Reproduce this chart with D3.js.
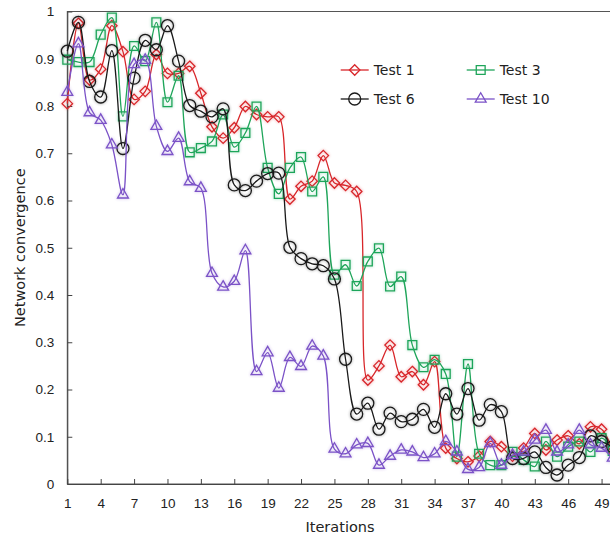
<!DOCTYPE html>
<html>
<head>
<meta charset="utf-8">
<script src="https://cdn.jsdelivr.net/npm/d3@7"></script>
<style>
  body { margin: 0; background: #fff; }
  svg { display: block; font-family: "DejaVu Sans", Verdana, sans-serif; }
</style>
</head>
<body>
<svg id="chart" width="610" height="534"></svg>
<script>
const iterations = d3.range(1, 51);

const test1 = [0.805, 0.975, 0.855, 0.878, 0.970, 0.915, 0.814, 0.831, 0.909, 0.869,
  0.869, 0.884, 0.827, 0.756, 0.732, 0.754, 0.799, 0.782, 0.777, 0.777,
  0.603, 0.630, 0.641, 0.695, 0.637, 0.632, 0.619, 0.220, 0.250, 0.294,
  0.227, 0.238, 0.210, 0.259, 0.076, 0.054, 0.047, 0.059, 0.090, 0.079,
  0.059, 0.076, 0.107, 0.072, 0.093, 0.102, 0.085, 0.121, 0.116, 0.070];

const test3 = [0.898, 0.893, 0.893, 0.951, 0.987, 0.778, 0.927, 0.895, 0.977, 0.808,
  0.864, 0.702, 0.711, 0.725, 0.782, 0.713, 0.743, 0.799, 0.669, 0.614,
  0.669, 0.692, 0.619, 0.650, 0.443, 0.464, 0.419, 0.471, 0.499, 0.418,
  0.439, 0.294, 0.247, 0.263, 0.233, 0.058, 0.254, 0.064, 0.040, 0.040,
  0.068, 0.051, 0.037, 0.090, 0.058, 0.079, 0.090, 0.068, 0.097, 0.070];

const test6 = [0.916, 0.977, 0.852, 0.819, 0.917, 0.710, 0.859, 0.939, 0.919, 0.970,
  0.895, 0.801, 0.789, 0.777, 0.794, 0.633, 0.621, 0.641, 0.657, 0.658,
  0.501, 0.477, 0.466, 0.462, 0.434, 0.264, 0.148, 0.171, 0.116, 0.150,
  0.132, 0.137, 0.158, 0.120, 0.191, 0.148, 0.202, 0.135, 0.168, 0.153,
  0.054, 0.054, 0.068, 0.035, 0.019, 0.040, 0.056, 0.102, 0.090, 0.079];

const test10 = [0.829, 0.932, 0.786, 0.770, 0.718, 0.612, 0.888, 0.897, 0.757, 0.704,
  0.732, 0.640, 0.626, 0.446, 0.417, 0.429, 0.494, 0.238, 0.278, 0.203,
  0.268, 0.249, 0.292, 0.271, 0.074, 0.064, 0.083, 0.086, 0.040, 0.059,
  0.072, 0.068, 0.056, 0.064, 0.090, 0.068, 0.031, 0.035, 0.086, 0.040,
  0.061, 0.068, 0.093, 0.114, 0.068, 0.083, 0.114, 0.083, 0.076, 0.055];

const xTicks = d3.range(1, 50, 3);
const yTicks = d3.range(0, 11).map(d => d / 10);

const series = [
  { name: "Test 1", values: test1, color: "#d8262a", symbol: d3.symbolDiamond2, size: 70 },
  { name: "Test 3", values: test3, color: "#1fa55a", symbol: d3.symbolSquare2, size: 100 },
  { name: "Test 6", values: test6, color: "#1a1a1a", symbol: d3.symbolCircle, size: 113 },
  { name: "Test 10", values: test10, color: "#7b52c7", symbol: d3.symbolTriangle2, size: 85 }
];

const svg = d3.select("#chart");

const plotLeft = 67.3, plotRight = 612.7, plotTop = 11.5, plotBottom = 484;

const x = d3.scaleLinear().domain([1, 50]).range([plotLeft, plotRight]);
const y = d3.scaleLinear().domain([0, 1]).range([plotBottom, plotTop]);

// soft glow on the markers
const defs = svg.append("defs");
const glow = defs.append("filter").attr("id", "glow")
  .attr("x", "-50%").attr("y", "-50%").attr("width", "200%").attr("height", "200%");
glow.append("feGaussianBlur").attr("in", "SourceGraphic").attr("stdDeviation", 1.6).attr("result", "b");
glow.append("feComponentTransfer").attr("in", "b").attr("result", "bf")
  .append("feFuncA").attr("type", "linear").attr("slope", 0.45);
const merge = glow.append("feMerge");
merge.append("feMergeNode").attr("in", "bf");
merge.append("feMergeNode").attr("in", "SourceGraphic");

// frame
svg.append("rect")
  .attr("x", plotLeft).attr("y", plotTop)
  .attr("width", plotRight - plotLeft).attr("height", plotBottom - plotTop)
  .attr("fill", "none").attr("stroke", "#555").attr("stroke-width", 1);

const xAxis = d3.axisBottom(x)
  .tickValues(xTicks)
  .tickSizeInner(-5).tickSizeOuter(0)
  .tickPadding(14.5)
  .tickFormat(d3.format("d"));

const yAxis = d3.axisLeft(y)
  .tickValues(yTicks)
  .tickSizeInner(-5).tickSizeOuter(0)
  .tickPadding(13)
  .tickFormat(d => d === 0 || d === 1 ? String(d) : d3.format(".1f")(d));

const gx = svg.append("g")
  .attr("transform", `translate(0, ${plotBottom})`)
  .call(xAxis);
const gy = svg.append("g")
  .attr("transform", `translate(${plotLeft}, 0)`)
  .call(yAxis);

[gx, gy].forEach(g => {
  g.select(".domain").attr("stroke", "#444");
  g.selectAll(".tick line").attr("stroke", "#444");
  g.selectAll(".tick text").attr("fill", "#222").style("font-size", "13.5px");
});

svg.append("text")
  .attr("x", (plotLeft + plotRight) / 2)
  .attr("y", 532)
  .attr("text-anchor", "middle")
  .attr("fill", "#222")
  .style("font-size", "14.5px")
  .text("Iterations");

svg.append("text")
  .attr("transform", `translate(25, ${(plotTop + plotBottom) / 2}) rotate(-90)`)
  .attr("text-anchor", "middle")
  .attr("fill", "#222")
  .style("font-size", "14.5px")
  .text("Network convergence");

const line = d3.line()
  .x((d, i) => x(iterations[i]))
  .y(d => y(d))
  .curve(d3.curveCatmullRom.alpha(0.5));

series.forEach(s => {
  const g = svg.append("g");
  g.append("path")
    .datum(s.values)
    .attr("d", line)
    .attr("fill", "none")
    .attr("stroke", s.color)
    .attr("stroke-width", 1.3);

  g.selectAll(".mark")
    .data(s.values)
    .enter()
    .append("path")
    .attr("class", "mark")
    .attr("transform", (d, i) => `translate(${x(iterations[i])}, ${y(d)})`)
    .attr("d", d3.symbol().type(s.symbol).size(s.size))
    .attr("fill", "none")
    .attr("stroke", s.color)
    .attr("stroke-width", 1.3)
    .attr("filter", "url(#glow)");
});

// Legend
const legend = svg.append("g");
const legendPos = [
  { lx: 340.7, ly: 70 },
  { lx: 466.7, ly: 70 },
  { lx: 340.7, ly: 99 },
  { lx: 466.7, ly: 99 }
];

series.forEach((s, i) => {
  const p = legendPos[i];
  const item = legend.append("g").attr("transform", `translate(${p.lx}, ${p.ly})`);
  item.append("line")
    .attr("x1", 0).attr("x2", 28).attr("y1", 0).attr("y2", 0)
    .attr("stroke", s.color).attr("stroke-width", 1.3);
  item.append("path")
    .attr("transform", "translate(14, 0)")
    .attr("d", d3.symbol().type(s.symbol).size(s.size))
    .attr("fill", "none")
    .attr("stroke", s.color)
    .attr("stroke-width", 1.3);
  item.append("text")
    .attr("x", 33)
    .attr("y", 0)
    .attr("dy", "0.36em")
    .attr("fill", "#222")
    .style("font-size", "14px")
    .text(s.name);
});
</script>
</body>
</html>
